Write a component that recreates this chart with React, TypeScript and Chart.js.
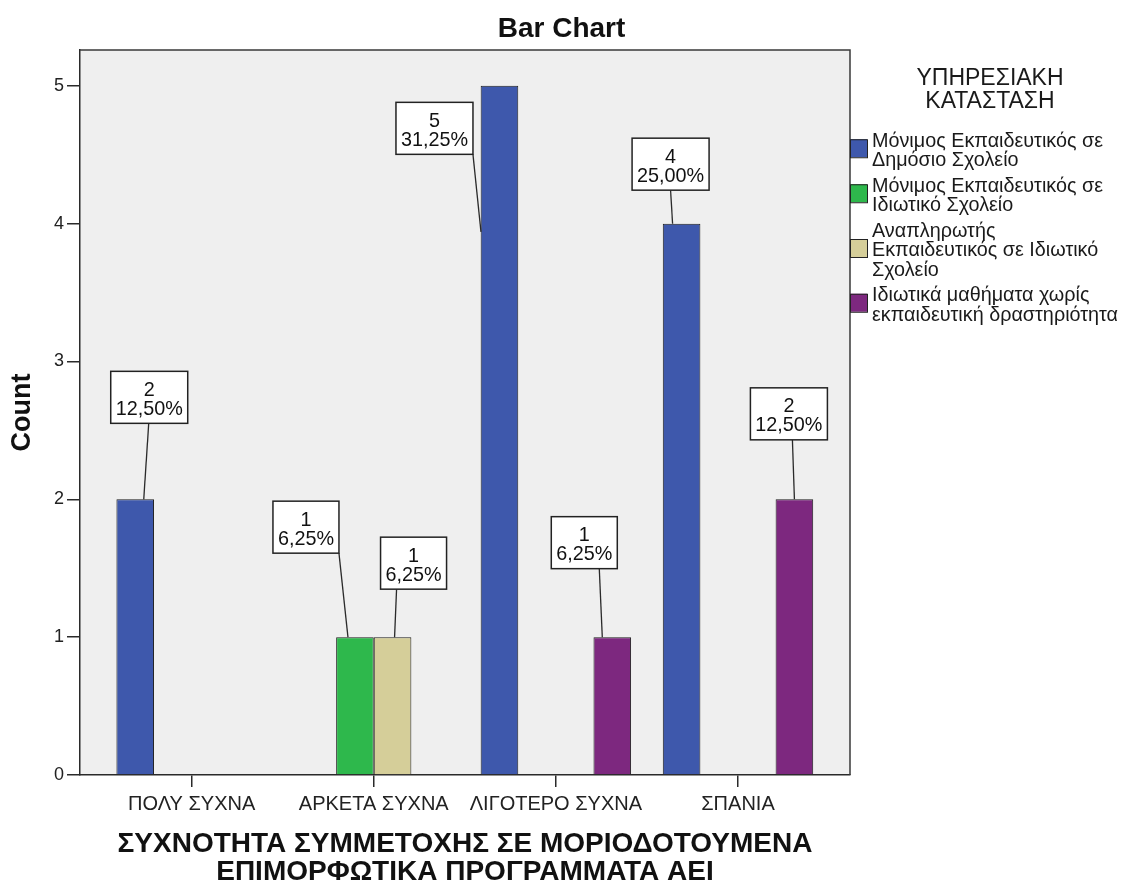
import { useEffect, useRef } from 'react';
import { Chart, registerables } from 'chart.js';

Chart.register(...registerables);

// Categories on the x axis (frequency of participation)
const categories = ['ΠΟΛΥ ΣΥΧΝΑ', 'ΑΡΚΕΤΑ ΣΥΧΝΑ', 'ΛΙΓΟΤΕΡΟ ΣΥΧΝΑ', 'ΣΠΑΝΙΑ'];

// Employment status series (legend entries, wrapped as shown)
const seriesNames = [
  'Μόνιμος Εκπαιδευτικός σε Δημόσιο Σχολείο',
  'Μόνιμος Εκπαιδευτικός σε Ιδιωτικό Σχολείο',
  'Αναπληρωτής Εκπαιδευτικός σε Ιδιωτικό Σχολείο',
  'Ιδιωτικά μαθήματα χωρίς εκπαιδευτική δραστηριότητα',
];
const legendLines = [
  ['Μόνιμος Εκπαιδευτικός σε', 'Δημόσιο Σχολείο'],
  ['Μόνιμος Εκπαιδευτικός σε', 'Ιδιωτικό Σχολείο'],
  ['Αναπληρωτής', 'Εκπαιδευτικός σε Ιδιωτικό', 'Σχολείο'],
  ['Ιδιωτικά μαθήματα χωρίς', 'εκπαιδευτική δραστηριότητα'],
];
const legendTitle = ['ΥΠΗΡΕΣΙΑΚΗ', 'ΚΑΤΑΣΤΑΣΗ'];

// Counts per category (null = no respondents in that group)
const monimosDimosio: (number | null)[] = [2, null, 5, 4];
const monimosIdiotiko: (number | null)[] = [null, 1, null, null];
const anaplirotisIdiotiko: (number | null)[] = [null, 1, null, null];
const idiotikaMathimata: (number | null)[] = [null, null, 1, 2];
const totalCount = 16;

const seriesValues = [monimosDimosio, monimosIdiotiko, anaplirotisIdiotiko, idiotikaMathimata];
const seriesColors = ['#3E58AC', '#2EB84C', '#D5CE99', '#7D287F'];

const yTicks = [0, 1, 2, 3, 4, 5];
const yMax = 5.26;
const xMin = -0.613;
const xMax = 3.615;

const chartTitle = 'Bar Chart';
const yTitle = 'Count';
const xTitle = ['ΣΥΧΝΟΤΗΤΑ ΣΥΜΜΕΤΟΧΗΣ ΣΕ ΜΟΡΙΟΔΟΤΟΥΜΕΝΑ', 'ΕΠΙΜΟΡΦΩΤΙΚΑ ΠΡΟΓΡΑΜΜΑΤΑ ΑΕΙ'];

// Callout placement for the value labels: box centre offset from the bar top,
// leader start offset along the box bottom, leader end offset from the bar top.
const callouts = [
  { ds: 0, cat: 0, dx: 14, dy: -102, sx: -0.5, ex: 8.5, ey: 0 },
  { ds: 1, cat: 1, dx: -49, dy: -110, sx: 33, ex: -7, ey: 0 },
  { ds: 2, cat: 1, dx: 21, dy: -74, sx: -17, ex: 2, ey: 0 },
  { ds: 0, cat: 2, dx: -65, dy: 42.5, sx: 38.5, ex: -18.5, ey: 146 },
  { ds: 3, cat: 2, dx: -28, dy: -94.5, sx: 15, ex: -10, ey: 0 },
  { ds: 0, cat: 3, dx: -11, dy: -59.5, sx: 0, ex: -9, ey: 0 },
  { ds: 3, cat: 3, dx: -5.5, dy: -85.5, sx: 3.5, ex: 0, ey: 0 },
];

const FONT = '"Liberation Sans", Arial, sans-serif';

const formatPercent = (v: number) => (v / totalCount * 100).toFixed(2).replace('.', ',') + '%';

const framePlugin = {
  id: 'plotFrame',
  beforeDraw(chart: any) {
    const { ctx, chartArea: a } = chart;
    ctx.save();
    ctx.fillStyle = '#EFEFEF';
    ctx.fillRect(a.left, a.top, a.right - a.left, a.bottom - a.top);
    ctx.restore();
  },
  afterDraw(chart: any) {
    const { ctx, chartArea: a } = chart;
    ctx.save();
    ctx.strokeStyle = '#3a3a3a';
    ctx.lineWidth = 1.5;
    ctx.beginPath();
    ctx.moveTo(a.left, a.top);
    ctx.lineTo(a.right, a.top);
    ctx.lineTo(a.right, a.bottom);
    ctx.stroke();

    // chart title
    ctx.fillStyle = '#111';
    ctx.font = `bold 28px ${FONT}`;
    ctx.textAlign = 'center';
    ctx.textBaseline = 'alphabetic';
    ctx.fillText(chartTitle, chart.width / 2, 37);
    ctx.restore();
  },
};

const calloutPlugin = {
  id: 'valueCallouts',
  afterDatasetsDraw(chart: any) {
    const { ctx } = chart;
    ctx.save();
    ctx.font = `19.8px ${FONT}`;
    for (const c of callouts) {
      const value = seriesValues[c.ds][c.cat];
      if (value == null) continue;
      const bar = chart.getDatasetMeta(c.ds).data[c.cat];
      if (!bar) continue;
      const lines = [String(value), formatPercent(value)];
      const tw = Math.max(...lines.map((l) => ctx.measureText(l).width));
      const w = Math.round(tw + 10);
      const h = 52;
      const cx = bar.x + c.dx;
      const cy = bar.y + c.dy;
      const left = cx - w / 2;
      const top = cy - h / 2;

      ctx.strokeStyle = '#2a2a2a';
      ctx.lineWidth = 1.3;
      ctx.beginPath();
      ctx.moveTo(cx + c.sx, top + h);
      ctx.lineTo(bar.x + c.ex, bar.y + c.ey);
      ctx.stroke();

      ctx.fillStyle = '#ffffff';
      ctx.fillRect(left, top, w, h);
      ctx.strokeStyle = '#222';
      ctx.lineWidth = 1.5;
      ctx.strokeRect(left, top, w, h);

      ctx.fillStyle = '#111';
      ctx.textAlign = 'center';
      ctx.textBaseline = 'alphabetic';
      ctx.fillText(lines[0], cx, top + 24.5);
      ctx.fillText(lines[1], cx, top + 43.5);
    }
    ctx.restore();
  },
};

const legendPlugin = {
  id: 'sideLegend',
  afterDraw(chart: any) {
    const { ctx } = chart;
    ctx.save();
    ctx.fillStyle = '#1a1a1a';
    ctx.textAlign = 'center';
    ctx.textBaseline = 'alphabetic';
    ctx.font = `23px ${FONT}`;
    ctx.fillText(legendTitle[0], 990, 85);
    ctx.fillText(legendTitle[1], 990, 108);

    ctx.font = `19.8px ${FONT}`;
    ctx.textAlign = 'left';
    const lineH = 19.5;
    const gap = 6;
    let y = 146.5;
    legendLines.forEach((lines, k) => {
      const first = y;
      lines.forEach((l) => {
        ctx.fillStyle = '#1a1a1a';
        ctx.fillText(l, 872, y);
        y += lineH;
      });
      const last = y - lineH;
      const mid = (first + last) / 2 - 8;
      ctx.fillStyle = seriesColors[k];
      ctx.fillRect(850, mid - 9, 17, 18);
      ctx.strokeStyle = '#222';
      ctx.lineWidth = 1;
      ctx.strokeRect(850.5, mid - 8.5, 17, 18);
      y += gap;
    });
    ctx.restore();
  },
};

export default function App() {
  const ref = useRef<HTMLCanvasElement>(null);

  useEffect(() => {
    const canvas = ref.current;
    if (!canvas) return;
    const chart = new Chart(canvas, {
      type: 'bar',
      data: {
        datasets: seriesValues.map((vals, k) => ({
          label: seriesNames[k],
          data: vals.map((v, i) => ({ x: i, y: v })) as any,
          backgroundColor: seriesColors[k],
          borderColor: '#1e1e1e',
          borderWidth: 1,
          categoryPercentage: 0.826,
          barPercentage: 1,
        })),
      },
      options: {
        responsive: false,
        animation: false,
        events: [],
        devicePixelRatio: 1,
        layout: { padding: { top: 50, right: 273, left: 0, bottom: 0 } },
        plugins: {
          legend: { display: false },
          tooltip: { enabled: false },
          title: { display: false },
        },
        scales: {
          x: {
            type: 'linear',
            min: xMin,
            max: xMax,
            offset: false,
            afterBuildTicks: (scale: any) => {
              scale.ticks = categories.map((_, i) => ({ value: i }));
            },
            afterFit: (scale: any) => {
              scale.height = 109;
            },
            grid: {
              display: true,
              drawOnChartArea: false,
              drawTicks: true,
              tickLength: 12,
              color: '#2a2a2a',
              lineWidth: 1.5,
              offset: false,
            },
            border: { display: true, color: '#2a2a2a', width: 1.5 },
            ticks: {
              autoSkip: false,
              maxRotation: 0,
              padding: 5,
              color: '#222',
              font: { family: FONT, size: 20 },
              callback: (v: any) => categories[v as number] ?? '',
            },
            title: {
              display: true,
              text: xTitle,
              color: '#111',
              font: { family: FONT, size: 28, weight: 'bold', lineHeight: 1 },
              padding: { top: 0, bottom: -2 },
            },
          },
          y: {
            type: 'linear',
            min: 0,
            max: yMax,
            afterBuildTicks: (scale: any) => {
              scale.ticks = yTicks.map((v) => ({ value: v }));
            },
            afterFit: (scale: any) => {
              scale.width = 80;
            },
            grid: {
              display: true,
              drawOnChartArea: false,
              drawTicks: true,
              tickLength: 13,
              color: '#2a2a2a',
              lineWidth: 1.5,
            },
            border: { display: true, color: '#2a2a2a', width: 1.5 },
            ticks: {
              padding: 3,
              color: '#222',
              font: { family: FONT, size: 18 },
            },
            title: {
              display: true,
              text: yTitle,
              color: '#111',
              font: { family: FONT, size: 27, weight: 'bold' },
              padding: { top: 6, bottom: 0 },
            },
          },
        },
      },
      plugins: [framePlugin, calloutPlugin, legendPlugin],
    } as any);
    return () => chart.destroy();
  }, []);

  return (
    <canvas
      ref={ref}
      width={1123}
      height={884}
      style={{ position: 'fixed', left: 0, top: 0, width: 1123, height: 884, background: '#fff' }}
    />
  );
}
